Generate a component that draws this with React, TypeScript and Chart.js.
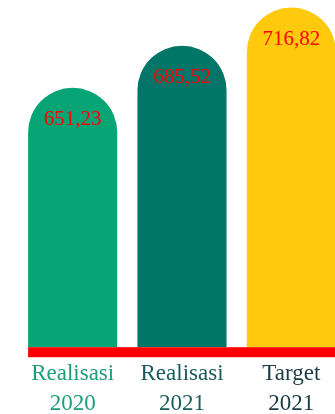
import React, { useEffect, useRef } from "react";
import { Chart, registerables } from "chart.js";

Chart.register(...registerables);

const categories: string[][] = [["Realisasi", "2020"], ["Realisasi", "2021"], ["Target", "2021"]];
const values: number[] = [651.23, 685.52, 716.82];
const valueLabels: string[] = ["651,23", "685,52", "716,82"];
const barColors: string[] = ["#07A575", "#007568", "#FFC90E"];
const labelColors: string[] = ["#1E9E77", "#1A5C5C", "#1C3A45"];
const yMin = 439;
const yMax = 723;

const valueLabelPlugin = {
  id: "valueLabels",
  afterDatasetsDraw(chart: any) {
    const ctx = chart.ctx;
    const meta = chart.getDatasetMeta(0);
    const first = meta.data[0];
    const area = chart.chartArea;
    ctx.save();
    ctx.fillStyle = "#FF0000";
    const left = first.x - first.width / 2;
    ctx.fillRect(left, area.bottom, area.right - left, 10);
    ctx.font = "21px 'Liberation Serif', serif";
    ctx.fillStyle = "#FF0000";
    ctx.textAlign = "center";
    ctx.textBaseline = "top";
    meta.data.forEach((bar: any, i: number) => {
      ctx.fillText(valueLabels[i], bar.x, bar.y + 21);
    });
    ctx.restore();
  },
};

export default function App() {
  const ref = useRef<HTMLCanvasElement | null>(null);
  useEffect(() => {
    if (!ref.current) return;
    const chart = new Chart(ref.current, {
      type: "bar",
      data: {
        labels: categories,
        datasets: [
          {
            data: values,
            backgroundColor: barColors,
            borderRadius: 100,
            borderSkipped: "start",
            categoryPercentage: 1,
            barPercentage: 0.815,
          },
        ],
      },
      options: {
        animation: false,
        responsive: true,
        maintainAspectRatio: false,
        layout: { padding: { left: 18, right: 0, top: 0, bottom: 0 } },
        plugins: { legend: { display: false }, tooltip: { enabled: false } },
        scales: {
          y: { display: false, min: yMin, max: yMax },
          x: {
            grid: { display: false, drawTicks: false },
            border: { display: false },
            ticks: {
              padding: 12,
              color: (c: any) => labelColors[c.index] || "#000",
              font: { family: "'Liberation Serif', serif", size: 23, lineHeight: 1.3 },
              maxRotation: 0,
              autoSkip: false,
            },
          },
        },
      },
      plugins: [valueLabelPlugin],
    });
    return () => chart.destroy();
  }, []);
  return (
    <div style={{ position: "absolute", left: 0, top: 0, width: 346, height: 431 }}>
      <canvas ref={ref} />
    </div>
  );
}
